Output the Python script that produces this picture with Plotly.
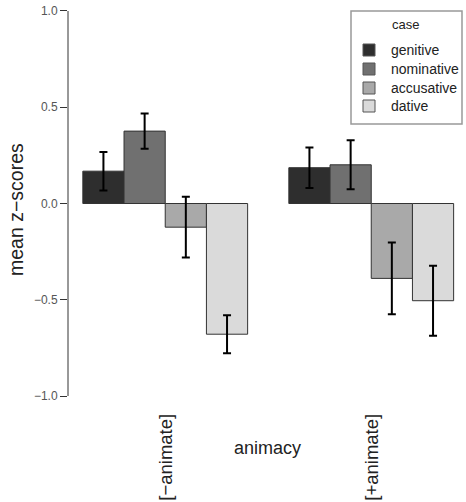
import plotly.graph_objects as go

# ---- data ----
cases = ["genitive", "nominative", "accusative", "dative"]
animacy = ["[\u2212animate]", "[+animate]"]
means_inanimate = [0.168, 0.376, -0.123, -0.679]
means_animate = [0.186, 0.201, -0.389, -0.505]
err_inanimate = [0.100, 0.092, 0.158, 0.099]
err_animate = [0.105, 0.127, 0.186, 0.182]
colors = ["#2e2e2e", "#707070", "#a9a9a9", "#dadada"]
yticks = [-1.0, -0.5, 0.0, 0.5, 1.0]

FONT = "Liberation Sans, Arial, Helvetica, sans-serif"
W, H = 466, 502
ML, MR, MT, MB = 68, 0, 0, 90
PW, PH = W - ML - MR, H - MT - MB


def px_x(p):
    return (p - ML) / PW


def px_y(p):
    return (H - MB - p) / PH


means = [means_inanimate, means_animate]
errs = [err_inanimate, err_animate]
ngroups = len(animacy)
ncase = len(cases)

fig = go.Figure()
for i, c in enumerate(cases):
    xs = [1 + g * (ncase + 1) + i + 0.5 for g in range(ngroups)]
    fig.add_trace(go.Bar(
        x=xs,
        y=[means[g][i] for g in range(ngroups)],
        width=1,
        name=c,
        showlegend=False,
        marker=dict(color=colors[i], line=dict(color="#333333", width=1)),
        error_y=dict(type="data", array=[errs[g][i] for g in range(ngroups)],
                     color="#000000", thickness=2, width=4),
    ))

group_centers = [1 + g * (ncase + 1) + ncase / 2 for g in range(ngroups)]

annotations = []
shapes = []
for gc, lab in zip(group_centers, animacy):
    annotations.append(dict(x=gc, xref="x", y=0, yref="paper", text=lab,
                            textangle=-90, showarrow=False, xanchor="center",
                            yanchor="top", font=dict(family=FONT, size=18.5, color="#222")))
annotations.append(dict(x=px_x(267), xref="paper", y=px_y(448), yref="paper", text="animacy",
                        showarrow=False, xanchor="center", yanchor="middle",
                        font=dict(family=FONT, size=18, color="#222")))
annotations.append(dict(x=px_x(16), xref="paper", y=px_y(209), yref="paper", text="mean z\u2212scores",
                        textangle=-90, showarrow=False, xanchor="center", yanchor="middle",
                        font=dict(family=FONT, size=19.5, color="#222")))

# y axis line spanning only the tick range
shapes.append(dict(type="line", xref="x domain", x0=0, x1=0, yref="y", y0=-1, y1=1,
                   line=dict(color="#333", width=1)))

# manual legend
shapes.append(dict(type="rect", xref="paper", yref="paper",
                   x0=px_x(351), x1=px_x(462), y0=px_y(124), y1=px_y(11),
                   line=dict(color="#999999", width=1.5), fillcolor="white"))
annotations.append(dict(x=px_x(405), xref="paper", y=px_y(25), yref="paper", text="case",
                        showarrow=False, xanchor="center", yanchor="middle",
                        font=dict(family=FONT, size=13, color="#222")))
row_y = [50, 69, 88, 106]
for i, c in enumerate(cases):
    shapes.append(dict(type="rect", xref="paper", yref="paper",
                       x0=px_x(363), x1=px_x(375), y0=px_y(row_y[i] + 6), y1=px_y(row_y[i] - 6),
                       line=dict(color="#555555", width=1), fillcolor=colors[i]))
    annotations.append(dict(x=px_x(389), xref="paper", y=px_y(row_y[i]), yref="paper", text=c,
                            showarrow=False, xanchor="left", yanchor="middle",
                            font=dict(family=FONT, size=14, color="#222")))

fig.update_layout(
    template="none",
    width=W, height=H,
    margin=dict(l=ML, r=MR, t=MT, b=MB, pad=0, autoexpand=False),
    paper_bgcolor="white", plot_bgcolor="white",
    barmode="overlay",
    showlegend=False,
    xaxis=dict(range=[0.64, 10.30], showgrid=False, zeroline=False, automargin=False,
               showticklabels=False, ticks="", showline=False),
    yaxis=dict(range=[-1.0831, 1.0571], showgrid=False, zeroline=False, automargin=False,
               tickvals=yticks, ticktext=[("\u2212" if v < 0 else "") + f"{abs(v):.1f}" for v in yticks],
               ticks="outside", ticklen=7, tickcolor="#333", tickwidth=1,
               tickfont=dict(family=FONT, size=12, color="#555"), showline=False),
    annotations=annotations,
    shapes=shapes,
)

fig.write_html("out.html", config={"displayModeBar": False},
               post_script="document.body.style.margin='0';document.body.style.overflow='hidden';")
